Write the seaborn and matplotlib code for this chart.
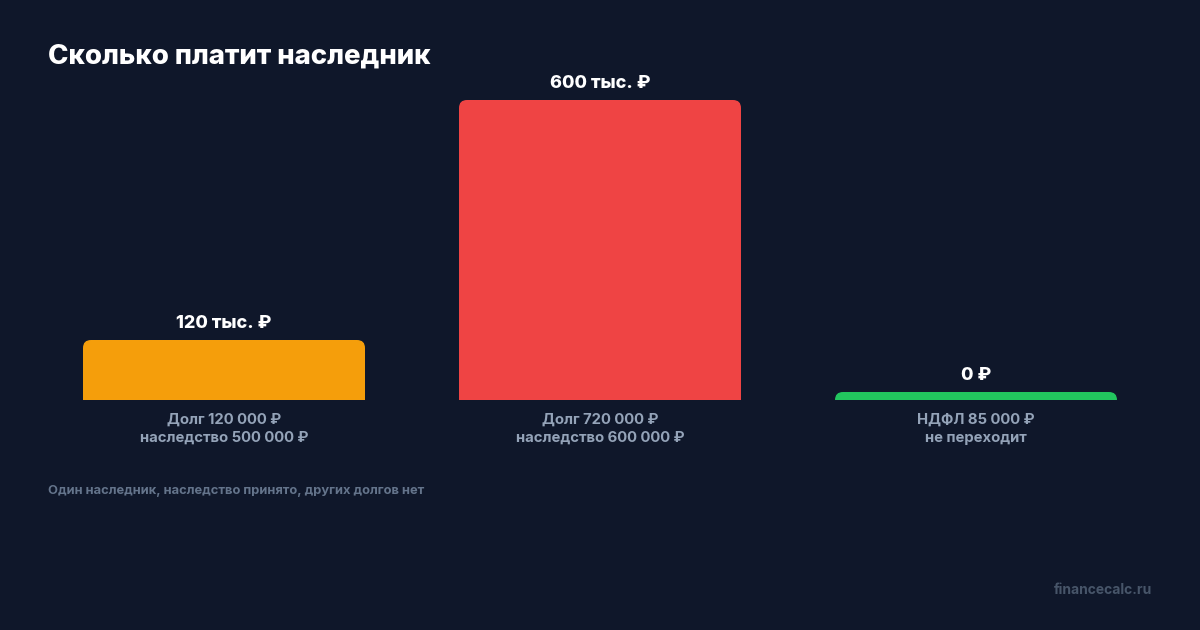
import matplotlib
matplotlib.use("Agg")
import matplotlib.pyplot as plt
from matplotlib.patches import FancyBboxPatch
import seaborn as sns
import pandas as pd

# ---- data ----
categories = ["Долг 120 000 ₽\nнаследство 500 000 ₽",
              "Долг 720 000 ₽\nнаследство 600 000 ₽",
              "НДФЛ 85 000 ₽\nне переходит"]
values = [120, 600, 0]          # thousand rubles paid by heir
value_labels = ["120 тыс. ₽", "600 тыс. ₽", "0 ₽"]
colors = ["#f59e0b", "#ef4444", "#22c55e"]
title = "Сколько платит наследник"
footnote = "Один наследник, наследство принято, других долгов нет"
watermark = "financecalc.ru"

# ---- style ----
BG = "#0f172a"
min_stub = 16   # visible stub for zero-value bars (style)
sns.set_theme(style="dark")
plt.rcParams["font.family"] = ["Inter", "DejaVu Sans"]

fig = plt.figure(figsize=(12, 6.3), dpi=100, facecolor=BG)
ax = fig.add_axes([36 / 1200, (630 - 400) / 630, 1128 / 1200, 340 / 630])
ax.set_facecolor(BG)

df = pd.DataFrame({"cat": categories,
                   "h": [max(v, min_stub) for v in values]})
sns.barplot(data=df, x="cat", y="h", hue="cat", palette=colors,
            legend=False, width=0.75, ax=ax, saturation=1)
ax.set_xlim(-0.5, 2.5)
ax.set_ylim(0, 680)

# replace bars with top-rounded versions
r_x = 8 / 376.0
aspect = 2.0 / (1 / 376.0)
for i, (p, c) in enumerate(zip(list(ax.patches), colors)):
    x0, w, h = p.get_x(), p.get_width(), p.get_height()
    p.set_visible(False)
    fb = FancyBboxPatch((x0, -40), w, h + 40,
                        boxstyle=f"round,pad=0,rounding_size={r_x}",
                        mutation_aspect=aspect, facecolor=c,
                        edgecolor="none", clip_on=True)
    ax.add_patch(fb)
    ax.annotate(value_labels[i],
                (x0 + w / 2, h), xytext=(0, 6), textcoords="offset points",
                ha="center", va="bottom", color="white",
                fontsize=13, fontweight=800, annotation_clip=False)

ax.set_xlabel("")
ax.set_ylabel("")
ax.set_yticks([])
ax.tick_params(axis="x", length=0, pad=9, colors="#94a3b8")
for lbl in ax.get_xticklabels():
    lbl.set_fontsize(10.7)
    lbl.set_fontweight("bold")
    lbl.set_color("#94a3b8")
    lbl.set_linespacing(1.42)
for s in ax.spines.values():
    s.set_visible(False)
ax.grid(False)

fig.text(48 / 1200, 1 - 57 / 630, title, color="white", fontsize=19.8,
         fontweight=800, ha="left", va="center")
fig.text(48 / 1200, 1 - 491 / 630, footnote, color="#64748b", fontsize=9.3,
         fontweight="bold", ha="left", va="center")
fig.text(1152 / 1200, 1 - 590 / 630, watermark, color="#475569", fontsize=10,
         fontweight="bold", ha="right", va="center")

fig.savefig("out.png", dpi=100, facecolor=BG)
